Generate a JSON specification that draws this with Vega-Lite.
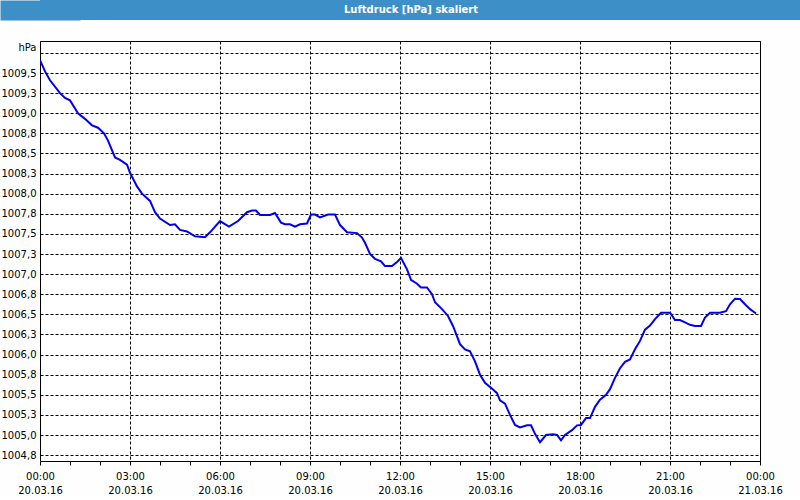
{
  "$schema": "https://vega.github.io/schema/vega-lite/v6.json",
  "padding": {"left": 0, "top": 0, "right": 0, "bottom": 0},
  "background": "#fdfefd",
  "spacing": 20,
  "vconcat": [
    {
      "width": 760,
      "height": 20,
      "view": {"fill": "#3d8fc8", "stroke": null},
      "data": {"values": [{"title": "Luftdruck [hPa] skaliert"}]},
      "mark": {"type": "text", "font": "DejaVu Sans", "fontSize": 10, "fontWeight": "bold", "color": "white", "baseline": "middle", "align": "center", "dx": -9},
      "encoding": {
        "text": {"field": "title"},
        "y": {"field": "title", "type": "nominal", "axis": {"labels": false, "ticks": false, "grid": false, "title": null, "domain": true, "domainColor": "#3d8fc8", "domainWidth": 80}}
      }
    },
    {
      "width": 720,
      "height": 420,
      "view": {"stroke": "black", "strokeWidth": 1, "fill": "white"},
      "data": {"values": [
        {"t": "2016-03-20T00:00", "p": 1009.66},
        {"t": "2016-03-20T00:10", "p": 1009.52},
        {"t": "2016-03-20T00:20", "p": 1009.41},
        {"t": "2016-03-20T00:40", "p": 1009.25},
        {"t": "2016-03-20T00:50", "p": 1009.19},
        {"t": "2016-03-20T01:00", "p": 1009.16},
        {"t": "2016-03-20T01:16", "p": 1009.0},
        {"t": "2016-03-20T01:30", "p": 1008.93},
        {"t": "2016-03-20T01:44", "p": 1008.85},
        {"t": "2016-03-20T01:56", "p": 1008.82},
        {"t": "2016-03-20T02:08", "p": 1008.75},
        {"t": "2016-03-20T02:16", "p": 1008.66},
        {"t": "2016-03-20T02:30", "p": 1008.45},
        {"t": "2016-03-20T02:40", "p": 1008.42},
        {"t": "2016-03-20T02:54", "p": 1008.36},
        {"t": "2016-03-20T03:00", "p": 1008.26},
        {"t": "2016-03-20T03:14", "p": 1008.09},
        {"t": "2016-03-20T03:24", "p": 1008.0},
        {"t": "2016-03-20T03:40", "p": 1007.91},
        {"t": "2016-03-20T03:50", "p": 1007.77},
        {"t": "2016-03-20T04:00", "p": 1007.69},
        {"t": "2016-03-20T04:20", "p": 1007.61},
        {"t": "2016-03-20T04:30", "p": 1007.62},
        {"t": "2016-03-20T04:40", "p": 1007.55},
        {"t": "2016-03-20T04:54", "p": 1007.53},
        {"t": "2016-03-20T05:10", "p": 1007.47},
        {"t": "2016-03-20T05:30", "p": 1007.46},
        {"t": "2016-03-20T05:40", "p": 1007.52},
        {"t": "2016-03-20T06:00", "p": 1007.66},
        {"t": "2016-03-20T06:18", "p": 1007.59},
        {"t": "2016-03-20T06:36", "p": 1007.66},
        {"t": "2016-03-20T06:54", "p": 1007.77},
        {"t": "2016-03-20T07:04", "p": 1007.79},
        {"t": "2016-03-20T07:12", "p": 1007.79},
        {"t": "2016-03-20T07:20", "p": 1007.735},
        {"t": "2016-03-20T07:40", "p": 1007.735},
        {"t": "2016-03-20T07:50", "p": 1007.76},
        {"t": "2016-03-20T08:02", "p": 1007.64},
        {"t": "2016-03-20T08:10", "p": 1007.62},
        {"t": "2016-03-20T08:20", "p": 1007.62},
        {"t": "2016-03-20T08:30", "p": 1007.59},
        {"t": "2016-03-20T08:40", "p": 1007.62},
        {"t": "2016-03-20T08:54", "p": 1007.63},
        {"t": "2016-03-20T09:02", "p": 1007.74},
        {"t": "2016-03-20T09:10", "p": 1007.74},
        {"t": "2016-03-20T09:20", "p": 1007.705},
        {"t": "2016-03-20T09:36", "p": 1007.74},
        {"t": "2016-03-20T09:50", "p": 1007.74},
        {"t": "2016-03-20T10:00", "p": 1007.61},
        {"t": "2016-03-20T10:14", "p": 1007.52},
        {"t": "2016-03-20T10:34", "p": 1007.51},
        {"t": "2016-03-20T10:44", "p": 1007.455},
        {"t": "2016-03-20T10:50", "p": 1007.39},
        {"t": "2016-03-20T11:00", "p": 1007.25},
        {"t": "2016-03-20T11:10", "p": 1007.19},
        {"t": "2016-03-20T11:22", "p": 1007.16},
        {"t": "2016-03-20T11:30", "p": 1007.10},
        {"t": "2016-03-20T11:44", "p": 1007.10},
        {"t": "2016-03-20T11:54", "p": 1007.15},
        {"t": "2016-03-20T12:02", "p": 1007.20},
        {"t": "2016-03-20T12:14", "p": 1007.06},
        {"t": "2016-03-20T12:22", "p": 1006.93},
        {"t": "2016-03-20T12:34", "p": 1006.88},
        {"t": "2016-03-20T12:42", "p": 1006.835},
        {"t": "2016-03-20T12:54", "p": 1006.835},
        {"t": "2016-03-20T13:04", "p": 1006.75},
        {"t": "2016-03-20T13:10", "p": 1006.65},
        {"t": "2016-03-20T13:24", "p": 1006.565},
        {"t": "2016-03-20T13:36", "p": 1006.48},
        {"t": "2016-03-20T13:46", "p": 1006.355},
        {"t": "2016-03-20T14:00", "p": 1006.13},
        {"t": "2016-03-20T14:10", "p": 1006.065},
        {"t": "2016-03-20T14:20", "p": 1006.04},
        {"t": "2016-03-20T14:30", "p": 1005.915},
        {"t": "2016-03-20T14:40", "p": 1005.75},
        {"t": "2016-03-20T14:50", "p": 1005.65},
        {"t": "2016-03-20T15:06", "p": 1005.565},
        {"t": "2016-03-20T15:14", "p": 1005.52},
        {"t": "2016-03-20T15:20", "p": 1005.43},
        {"t": "2016-03-20T15:30", "p": 1005.39},
        {"t": "2016-03-20T15:40", "p": 1005.25},
        {"t": "2016-03-20T15:50", "p": 1005.125},
        {"t": "2016-03-20T16:00", "p": 1005.095},
        {"t": "2016-03-20T16:14", "p": 1005.12},
        {"t": "2016-03-20T16:22", "p": 1005.12},
        {"t": "2016-03-20T16:30", "p": 1005.015},
        {"t": "2016-03-20T16:40", "p": 1004.91},
        {"t": "2016-03-20T16:52", "p": 1005.0},
        {"t": "2016-03-20T17:06", "p": 1005.01},
        {"t": "2016-03-20T17:14", "p": 1005.0},
        {"t": "2016-03-20T17:22", "p": 1004.935},
        {"t": "2016-03-20T17:30", "p": 1005.0},
        {"t": "2016-03-20T17:44", "p": 1005.06},
        {"t": "2016-03-20T17:54", "p": 1005.12},
        {"t": "2016-03-20T18:02", "p": 1005.125},
        {"t": "2016-03-20T18:12", "p": 1005.21},
        {"t": "2016-03-20T18:20", "p": 1005.21},
        {"t": "2016-03-20T18:30", "p": 1005.35},
        {"t": "2016-03-20T18:40", "p": 1005.44},
        {"t": "2016-03-20T18:52", "p": 1005.5},
        {"t": "2016-03-20T19:00", "p": 1005.57},
        {"t": "2016-03-20T19:10", "p": 1005.71},
        {"t": "2016-03-20T19:20", "p": 1005.83},
        {"t": "2016-03-20T19:30", "p": 1005.91},
        {"t": "2016-03-20T19:40", "p": 1005.94},
        {"t": "2016-03-20T19:50", "p": 1006.065},
        {"t": "2016-03-20T20:00", "p": 1006.17},
        {"t": "2016-03-20T20:10", "p": 1006.31},
        {"t": "2016-03-20T20:20", "p": 1006.36},
        {"t": "2016-03-20T20:30", "p": 1006.44},
        {"t": "2016-03-20T20:42", "p": 1006.52},
        {"t": "2016-03-20T21:00", "p": 1006.52},
        {"t": "2016-03-20T21:10", "p": 1006.43},
        {"t": "2016-03-20T21:20", "p": 1006.43},
        {"t": "2016-03-20T21:30", "p": 1006.40},
        {"t": "2016-03-20T21:40", "p": 1006.37},
        {"t": "2016-03-20T21:50", "p": 1006.355},
        {"t": "2016-03-20T22:02", "p": 1006.355},
        {"t": "2016-03-20T22:10", "p": 1006.46},
        {"t": "2016-03-20T22:20", "p": 1006.52},
        {"t": "2016-03-20T22:40", "p": 1006.52},
        {"t": "2016-03-20T22:52", "p": 1006.54},
        {"t": "2016-03-20T23:00", "p": 1006.625},
        {"t": "2016-03-20T23:10", "p": 1006.695},
        {"t": "2016-03-20T23:20", "p": 1006.69},
        {"t": "2016-03-20T23:30", "p": 1006.625},
        {"t": "2016-03-20T23:40", "p": 1006.565},
        {"t": "2016-03-20T23:52", "p": 1006.51}
      ]},
      "mark": {"type": "line", "color": "#0000f0", "strokeWidth": 2, "clip": true},
      "encoding": {
        "x": {
          "field": "t", "type": "temporal",
          "scale": {"domain": [{"year": 2016, "month": 3, "date": 20, "hours": 0}, {"year": 2016, "month": 3, "date": 21, "hours": 0}], "nice": false},
          "axis": {
            "title": null,
            "values": [
              {"year": 2016, "month": 3, "date": 20, "hours": 0},
              {"year": 2016, "month": 3, "date": 20, "hours": 1},
              {"year": 2016, "month": 3, "date": 20, "hours": 2},
              {"year": 2016, "month": 3, "date": 20, "hours": 3},
              {"year": 2016, "month": 3, "date": 20, "hours": 4},
              {"year": 2016, "month": 3, "date": 20, "hours": 5},
              {"year": 2016, "month": 3, "date": 20, "hours": 6},
              {"year": 2016, "month": 3, "date": 20, "hours": 7},
              {"year": 2016, "month": 3, "date": 20, "hours": 8},
              {"year": 2016, "month": 3, "date": 20, "hours": 9},
              {"year": 2016, "month": 3, "date": 20, "hours": 10},
              {"year": 2016, "month": 3, "date": 20, "hours": 11},
              {"year": 2016, "month": 3, "date": 20, "hours": 12},
              {"year": 2016, "month": 3, "date": 20, "hours": 13},
              {"year": 2016, "month": 3, "date": 20, "hours": 14},
              {"year": 2016, "month": 3, "date": 20, "hours": 15},
              {"year": 2016, "month": 3, "date": 20, "hours": 16},
              {"year": 2016, "month": 3, "date": 20, "hours": 17},
              {"year": 2016, "month": 3, "date": 20, "hours": 18},
              {"year": 2016, "month": 3, "date": 20, "hours": 19},
              {"year": 2016, "month": 3, "date": 20, "hours": 20},
              {"year": 2016, "month": 3, "date": 20, "hours": 21},
              {"year": 2016, "month": 3, "date": 20, "hours": 22},
              {"year": 2016, "month": 3, "date": 20, "hours": 23},
              {"year": 2016, "month": 3, "date": 21, "hours": 0}
            ],
            "labelExpr": "hours(datum.value) % 3 === 0 ? [timeFormat(datum.value, '%H:%M'), timeFormat(datum.value, '%d.%m.%y')] : ''",
            "labelOverlap": false,
            "labelFlush": false,
            "labelBound": false,
            "labelFont": "DejaVu Sans",
            "labelFontSize": 10,
            "labelColor": "black",
            "labelLineHeight": 14,
            "labelPadding": 6,
            "labelAlign": "center",
            "domain": true,
            "domainColor": "black",
            "ticks": true,
            "tickSize": 4,
            "tickColor": "black",
            "grid": true,
            "gridColor": "black",
            "gridDash": [3, 2],
            "gridOpacity": {"condition": {"test": "hours(datum.value) % 3 === 0", "value": 1}, "value": 0}
          }
        },
        "y": {
          "field": "p", "type": "quantitative",
          "scale": {"domain": [1004.677, 1009.898], "nice": false, "zero": false},
          "axis": {
            "title": "hPa",
            "titleAngle": 0,
            "titleAlign": "right",
            "titleBaseline": "middle",
            "titleX": -4,
            "titleY": 6,
            "titleFont": "DejaVu Sans",
            "titleFontSize": 10,
            "titleFontWeight": "normal",
            "titleColor": "black",
            "values": [1004.75, 1005, 1005.25, 1005.5, 1005.75, 1006, 1006.25, 1006.5, 1006.75, 1007, 1007.25, 1007.5, 1007.75, 1008, 1008.25, 1008.5, 1008.75, 1009, 1009.25, 1009.5, 1009.75],
            "labelExpr": "datum.value > 1009.6 ? '' : replace(format(datum.value, '.1f'), '.', ',')",
            "labelFont": "DejaVu Sans",
            "labelFontSize": 10,
            "labelColor": "black",
            "labelPadding": 4,
            "labelOverlap": false,
            "labelBound": false,
            "labelFlush": false,
            "domain": false,
            "ticks": false,
            "grid": true,
            "gridColor": "black",
            "gridDash": [3, 2],
            "gridOpacity": 1
          }
        }
      }
    }
  ],
  "config": {
    "font": "DejaVu Sans"
  }
}
